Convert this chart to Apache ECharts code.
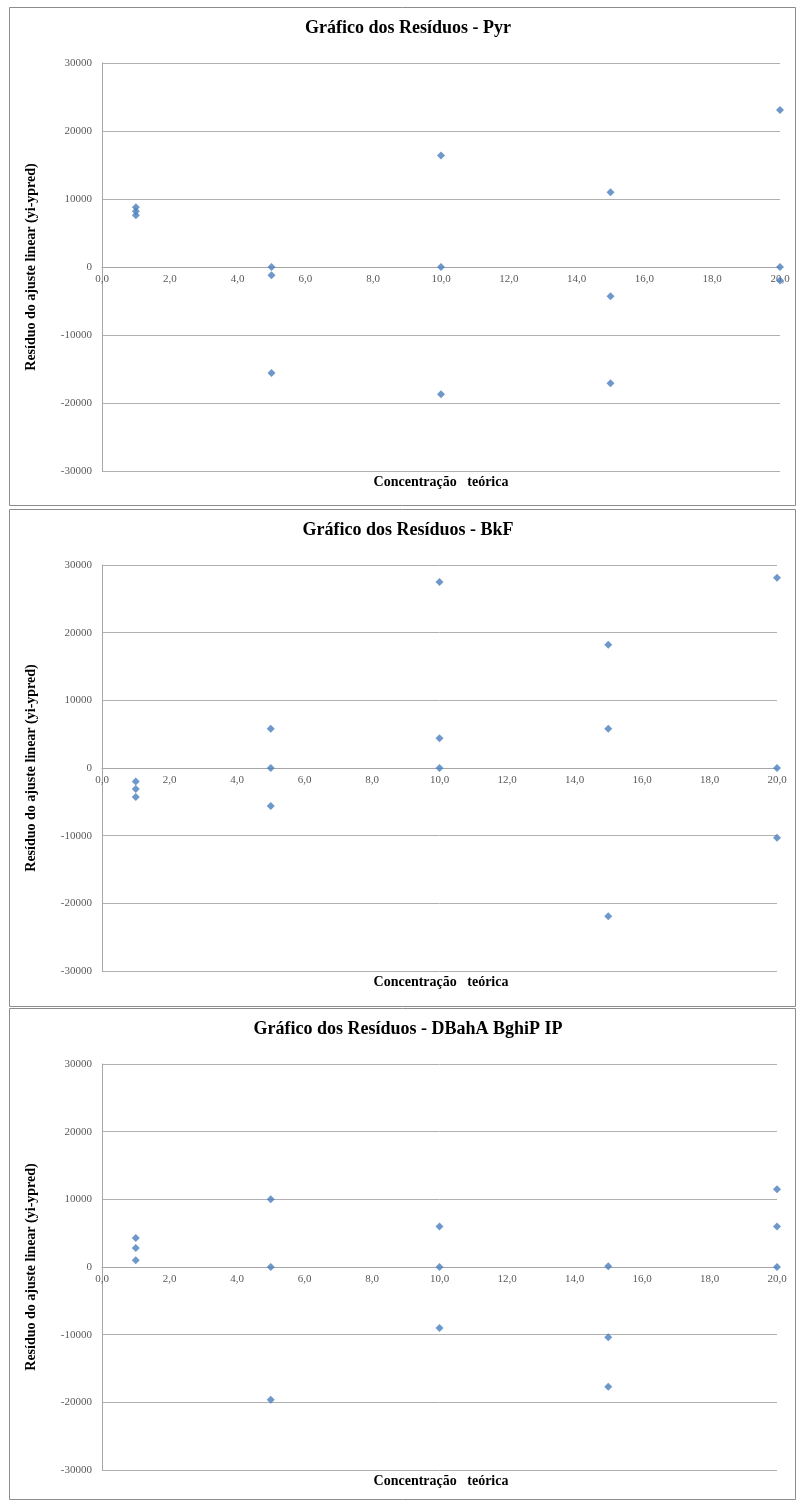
<!DOCTYPE html>
<html>
<head>
<meta charset="utf-8">
<title>Gráfico dos Resíduos</title>
<script src="https://cdn.jsdelivr.net/npm/echarts@6/dist/echarts.min.js"></script>
<style>
  html, body { margin: 0; padding: 0; background: #ffffff; }
  #chart { width: 797px; height: 1500px; }
</style>
</head>
<body>
<div id="chart"></div>
<script>
// Theoretical concentration of each calibration point (three replicates per level)
const concentracao = [1, 1, 1, 5, 5, 5, 10, 10, 10, 15, 15, 15, 20, 20, 20];

// Residuals of the linear fit (yi - ypred) per compound
const residuosPyr = [8800, 8200, 7600, 0, -1200, -15600, 16400, 0, -18700, 11000, -4300, -17100, 23100, 0, -2000];
const residuosBkF = [-2000, -3100, -4300, 5800, 0, -5600, 27500, 4400, 0, 18200, 5800, -21900, 28100, 0, -10300];
const residuosDBahA = [4300, 2800, 1000, 10000, 0, -19600, 6000, 0, -9000, 100, -10400, -17700, 11500, 6000, 0];

const titulos = [
  'Gráfico dos Resíduos - Pyr',
  'Gráfico dos Resíduos - BkF',
  'Gráfico dos Resíduos - DBahA BghiP IP'
];
const nomeEixoX = 'Concentração   teórica';
const nomeEixoY = 'Resíduo do ajuste linear (yi-ypred)';

// Axis ranges and tick spacing
const eixoX = { min: 0, max: 20, interval: 2 };
const eixoY = { min: -30000, max: 30000, interval: 10000 };

const serif = '"Liberation Serif", "Times New Roman", serif';

// Layout of the three stacked panels
const paineis = [
  { box: [9, 7, 786, 498], grid: { left: 102, top: 63, width: 678, height: 408 }, titleY: 19, xNameY: 475 },
  { box: [9, 509, 786, 497], grid: { left: 102, top: 565, width: 675, height: 406 }, titleY: 521, xNameY: 975 },
  { box: [9, 1008, 786, 491], grid: { left: 102, top: 1064, width: 675, height: 406 }, titleY: 1020, xNameY: 1474 }
];
const residuos = [residuosPyr, residuosBkF, residuosDBahA];

const chart = echarts.init(document.getElementById('chart'), null, { renderer: 'canvas' });

const option = {
  backgroundColor: '#ffffff',
  animation: false,
  title: [],
  graphic: [],
  grid: [],
  xAxis: [],
  yAxis: [],
  series: []
};

paineis.forEach((p, i) => {
  option.graphic.push({
    type: 'rect',
    shape: { x: p.box[0] + 0.5, y: p.box[1] + 0.5, width: p.box[2], height: p.box[3] },
    style: { fill: 'none', stroke: '#8c8c8c', lineWidth: 1 },
    silent: true
  });

  option.title.push({
    text: titulos[i],
    left: 408,
    top: p.titleY,
    textAlign: 'center',
    padding: 0,
    textStyle: { fontFamily: serif, fontWeight: 'bold', fontSize: 18, color: '#000000' }
  });
  option.title.push({
    text: nomeEixoX,
    left: 441,
    top: p.xNameY,
    textAlign: 'center',
    padding: 0,
    textStyle: { fontFamily: serif, fontWeight: 'bold', fontSize: 14, color: '#000000' }
  });

  option.grid.push(Object.assign({ containLabel: false }, p.grid));

  // Horizontal axis sits on the zero residual line, halfway down the plot
  option.xAxis.push({
    type: 'value',
    gridIndex: i,
    position: 'bottom',
    offset: -p.grid.height / 2,
    min: eixoX.min,
    max: eixoX.max,
    interval: eixoX.interval,
    axisLine: { show: true, onZero: false, lineStyle: { color: '#a6a6a6', width: 1 } },
    axisTick: { show: false },
    splitLine: { show: false },
    axisLabel: {
      margin: 7,
      fontFamily: serif,
      fontSize: 11,
      color: '#595959',
      formatter: v => v.toFixed(1).replace('.', ',')
    }
  });

  option.yAxis.push({
    type: 'value',
    gridIndex: i,
    min: eixoY.min,
    max: eixoY.max,
    interval: eixoY.interval,
    name: nomeEixoY,
    nameLocation: 'middle',
    nameGap: 64,
    nameTextStyle: { fontFamily: serif, fontWeight: 'bold', fontSize: 14, color: '#000000' },
    axisLine: { show: true, onZero: false, lineStyle: { color: '#a6a6a6', width: 1 } },
    axisTick: { show: false },
    splitLine: { show: true, lineStyle: { color: '#b0b0b0', width: 1 } },
    axisLabel: {
      margin: 10,
      fontFamily: serif,
      fontSize: 11,
      color: '#595959',
      formatter: v => String(v)
    }
  });

  option.series.push({
    type: 'scatter',
    xAxisIndex: i,
    yAxisIndex: i,
    symbol: 'diamond',
    symbolSize: [8, 8],
    itemStyle: { color: '#4a7ebb' },
    data: concentracao.map((c, k) => [c, residuos[i][k]])
  });
});

chart.setOption(option);
</script>
</body>
</html>
